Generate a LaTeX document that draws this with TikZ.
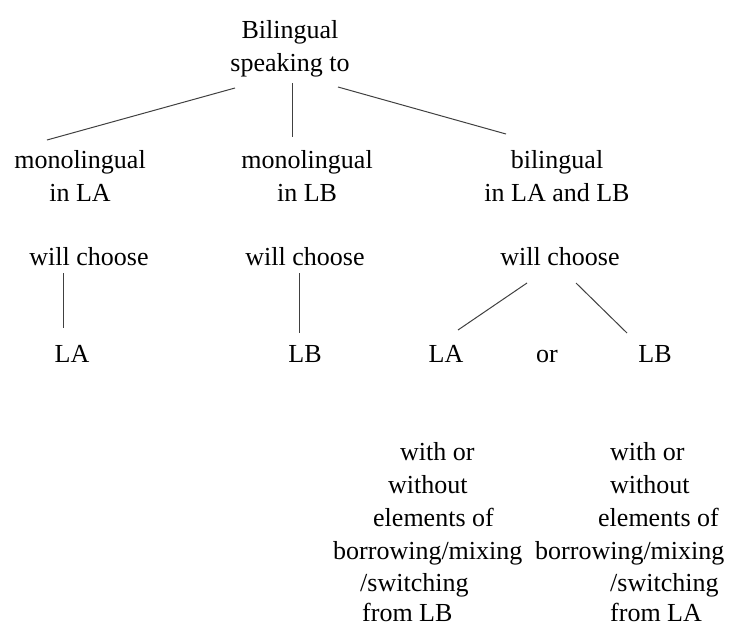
\documentclass[tikz,border=0pt]{standalone}
\usepackage{fontspec}
\setmainfont{Liberation Serif}
\usetikzlibrary{calc}
\begin{document}
\begin{tikzpicture}[x=1pt,y=-1pt,
  txt/.style={font=\fontsize{26}{33}\selectfont, inner sep=0pt, align=center, anchor=base, text=black},
  ltxt/.style={font=\fontsize{26}{33}\selectfont, inner sep=0pt, anchor=base west, text=black},
  conn/.style={draw=black!75, line width=1pt}]
\useasboundingbox (0,0) rectangle (729,624);
% tree nodes (base = baseline of last line)
\node[txt] (top) at (290,71) {Bilingual\\speaking to};
\node[txt] (m1) at (80,201) {monolingual\\in LA};
\node[txt] (m2) at (307,201) {monolingual\\in LB};
\node[txt] (b3) at (557,201) {bilingual\\in LA and LB};
\node[txt] (w1) at (89,265) {will choose};
\node[txt] (w2) at (305,265) {will choose};
\node[txt] (w3) at (560,265) {will choose};
\node[txt] (la1) at (72,362) {LA};
\node[txt] (lb2) at (305,362) {LB};
\node[txt] (la3) at (446,362) {LA};
\node[txt] (or) at (547,362) {or};
\node[txt] (lb3) at (655,362) {LB};
% bottom-left block
\node[ltxt] (l1) at (400,460) {with or};
\node[ltxt] (l2) at (388,493) {without};
\node[ltxt] (l3) at (373,526) {elements of};
\node[ltxt] (l4) at (333,559) {borrowing/mixing};
\node[ltxt] (l5) at (360,591) {/switching};
\node[ltxt] (l6) at (362,621) {from LB};
% bottom-right block
\node[ltxt] (r1) at (610,460) {with or};
\node[ltxt] (r2) at (610,493) {without};
\node[ltxt] (r3) at (598,526) {elements of};
\node[ltxt] (r4) at (535,559) {borrowing/mixing};
\node[ltxt] (r5) at (610,591) {/switching};
\node[ltxt] (r6) at (610,621) {from LA};
% connectors
\draw[conn] ($(top.base)+(-55,17)$) -- ($(m1.base)+(-33,-61)$);
\draw[conn] ($(top.base)+(2,12)$) -- ($(m2.base)+(-15,-64)$);
\draw[conn] ($(top.base)+(48,16)$) -- ($(b3.base)+(-51,-67)$);
\draw[conn] ($(w1.base)+(-26,8)$) -- ($(la1.base)+(-9,-34)$);
\draw[conn] ($(w2.base)+(-6,8)$) -- ($(lb2.base)+(-6,-29)$);
\draw[conn] ($(w3.base)+(-33,18)$) -- ($(la3.base)+(12,-32)$);
\draw[conn] ($(w3.base)+(16,18)$) -- ($(lb3.base)+(-28,-29)$);
\end{tikzpicture}
\end{document}
